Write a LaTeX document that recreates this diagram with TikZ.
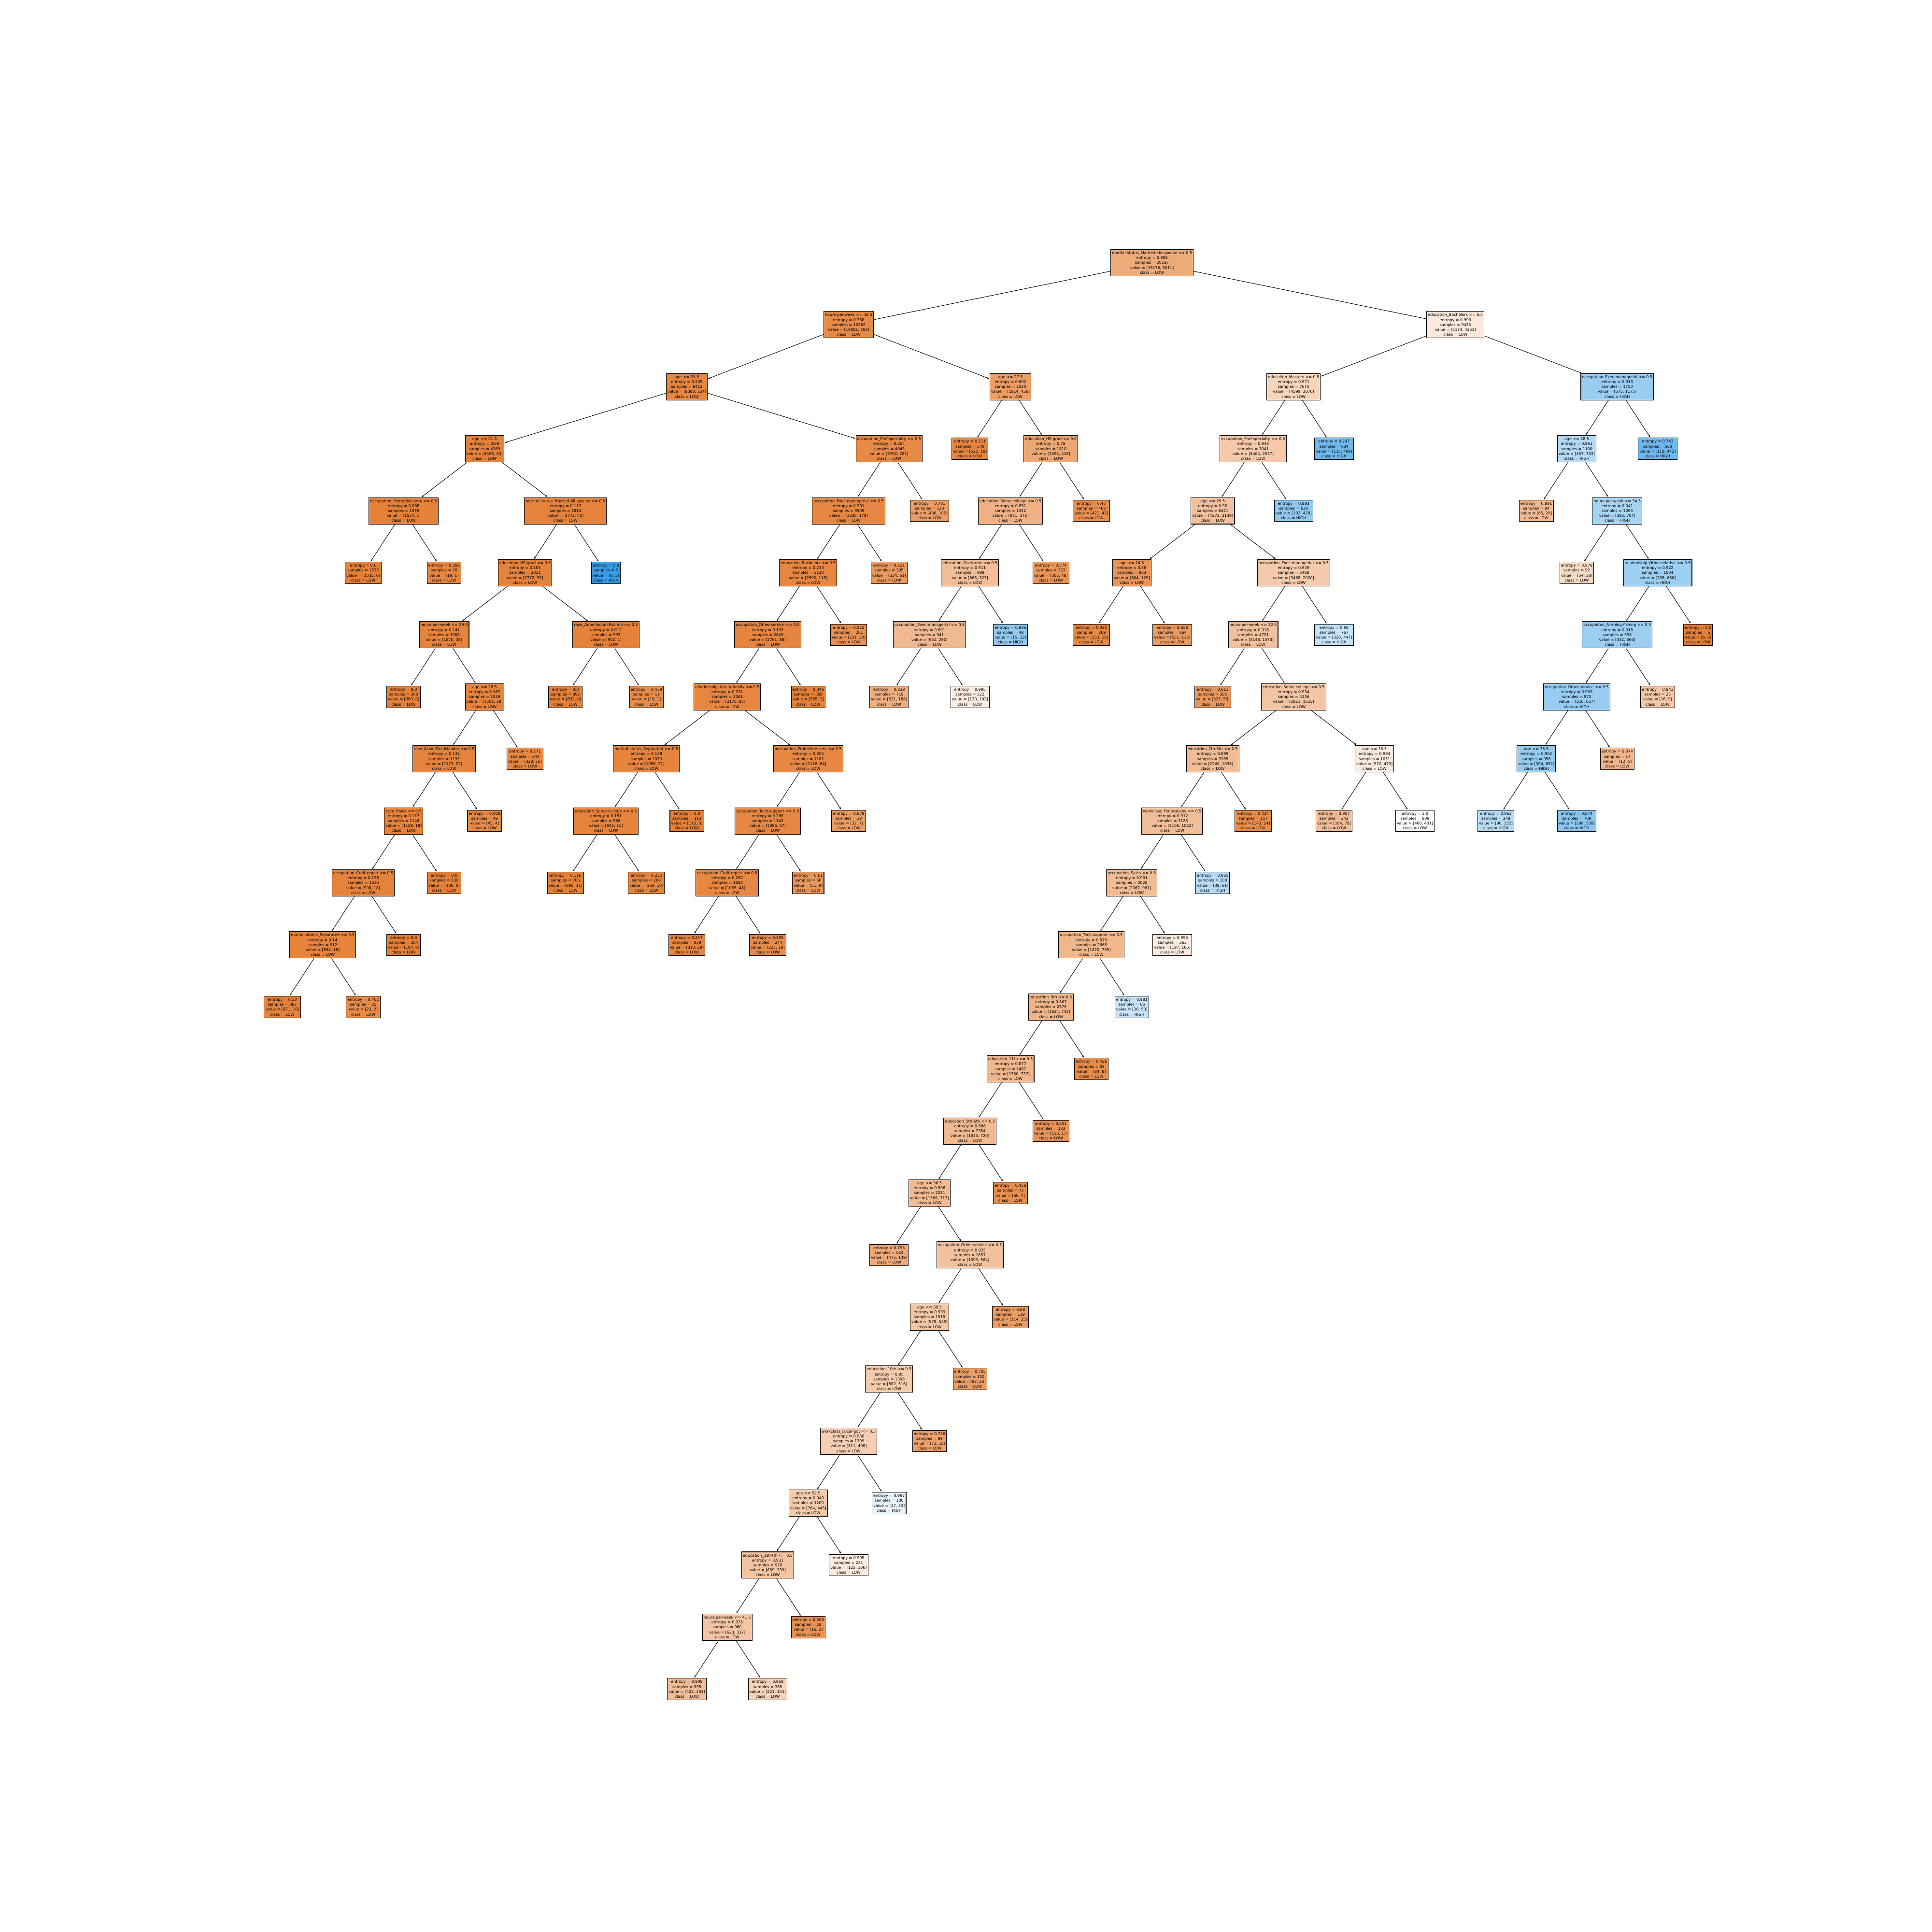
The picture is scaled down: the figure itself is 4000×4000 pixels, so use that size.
\documentclass[tikz,border=0pt]{standalone}
\usepackage{fontspec}
\setmainfont{DejaVu Sans}
\usetikzlibrary{arrows.meta}
\definecolor{loC}{RGB}{229,129,57}
\definecolor{hiC}{RGB}{57,157,229}
\tikzset{
  tbox/.style={draw=black, line width=1.1pt, rectangle, align=center,
    inner xsep=2.6pt, inner ysep=4pt, text=black,
    font=\fontsize{7.95}{10.2}\selectfont},
  edge/.style={line width=1pt, draw=black, -{Stealth[length=4.5pt,width=3.5pt]}, shorten >=1pt}
}
\newcommand\TNbase[6]{%
  \ifnum#5<#6\relax
    \pgfmathsetmacro\tnpct{100*(1-#5/#6)}\def\tnbase{hiC}\def\tncls{HIGH}%
  \else
    \pgfmathsetmacro\tnpct{100*(1-#6/#5)}\def\tnbase{loC}\def\tncls{LOW}%
  \fi
  \colorlet{tnfill}{\tnbase!\tnpct!white}%
  \node[tbox, fill=tnfill] (#1) at ({584.5+167.5*#2},{544+128.4*#3}) {#4};%
}
\newcommand\SN[8]{\TNbase{#1}{#2}{#3}{#4\\entropy = #5\\samples = #6\\value = [#7, #8]\\class = \tncls}{#7}{#8}}
\newcommand\LN[7]{\TNbase{#1}{#2}{#3}{entropy = #4\\samples = #5\\value = [#6, #7]\\class = \tncls}{#6}{#7}}
\begin{document}
\begin{tikzpicture}[x=1pt,y=-1pt]
\fill[white] (0,0) rectangle (4000,4000);
\path[use as bounding box] (0,0) rectangle (4000,4000);
% root and left
\SN{r}{10.75}{0}{marital-status\_Married-civ-spouse <= 0.5}{0.808}{20187}{15176}{5011}
\SN{a}{7}{1}{hours-per-week <= 42.5}{0.368}{10762}{10002}{760}
\SN{aa}{5}{2}{age <= 31.5}{0.235}{8412}{8088}{324}
\SN{ab}{9}{2}{age <= 27.5}{0.692}{2350}{1914}{436}
\SN{aaa}{2.5}{3}{age <= 21.5}{0.08}{4369}{4326}{43}
\SN{aab}{7.5}{3}{occupation\_Prof-specialty <= 0.5}{0.364}{4043}{3762}{281}
\SN{aaaa}{1.5}{4}{occupation\_Protective-serv <= 0.5}{0.008}{1555}{1554}{1}
\SN{aaab}{3.5}{4}{marital-status\_Married-AF-spouse <= 0.5}{0.112}{2814}{2772}{42}
\LN{l1}{1}{5}{0.0}{1535}{1535}{0}
\LN{l2}{2}{5}{0.286}{20}{19}{1}
\SN{c1}{3}{5}{education\_HS-grad <= 0.5}{0.105}{2811}{2772}{39}
\LN{l3}{4}{5}{0.0}{3}{0}{3}
\SN{c2}{2}{6}{hours-per-week <= 29.0}{0.141}{1908}{1870}{38}
\SN{c3}{4}{6}{race\_Amer-Indian-Eskimo <= 0.5}{0.012}{903}{902}{1}
\LN{l4}{1.5}{7}{0.0}{369}{369}{0}
\SN{c4}{2.5}{7}{age <= 28.5}{0.167}{1539}{1501}{38}
\LN{l5}{3.5}{7}{0.0}{892}{892}{0}
\LN{l6}{4.5}{7}{0.439}{11}{10}{1}
\SN{c5}{2}{8}{race\_Asian-Pac-Islander <= 0.5}{0.132}{1195}{1173}{22}
\LN{l7}{3}{8}{0.271}{344}{328}{16}
\SN{c6}{1.5}{9}{race\_Black <= 0.5}{0.117}{1146}{1128}{18}
\LN{l8}{2.5}{9}{0.408}{49}{45}{4}
\SN{c7}{1}{10}{occupation\_Craft-repair <= 0.5}{0.128}{1016}{998}{18}
\LN{l9}{2}{10}{0.0}{130}{130}{0}
\SN{c8}{0.5}{11}{marital-status\_Separated <= 0.5}{0.14}{912}{894}{18}
\LN{l10}{1.5}{11}{0.0}{104}{104}{0}
\LN{l11}{0}{12}{0.13}{887}{871}{16}
\LN{l12}{1}{12}{0.402}{25}{23}{2}
% aab subtree
\SN{d1}{7}{4}{occupation\_Exec-managerial <= 0.5}{0.291}{3505}{3326}{179}
\LN{m1}{8}{4}{0.701}{538}{436}{102}
\SN{d2}{6.5}{5}{education\_Bachelors <= 0.5}{0.233}{3110}{2992}{118}
\LN{m2}{7.5}{5}{0.621}{395}{334}{61}
\SN{d3}{6}{6}{occupation\_Other-service <= 0.5}{0.199}{2849}{2761}{88}
\LN{m3}{7}{6}{0.515}{261}{231}{30}
\SN{d4}{5.5}{7}{relationship\_Not-in-family <= 0.5}{0.231}{2261}{2176}{85}
\LN{m4}{6.5}{7}{0.046}{588}{585}{3}
\SN{d5}{4.5}{8}{marital-status\_Separated <= 0.5}{0.138}{1079}{1058}{21}
\SN{d6}{6.5}{8}{occupation\_Protective-serv <= 0.5}{0.304}{1182}{1118}{64}
\SN{d7}{4}{9}{education\_Some-college <= 0.5}{0.151}{966}{945}{21}
\LN{m5}{5}{9}{0.0}{113}{113}{0}
\SN{d8}{6}{9}{occupation\_Tech-support <= 0.5}{0.286}{1143}{1086}{57}
\LN{m6}{7}{9}{0.679}{39}{32}{7}
\LN{m7}{3.5}{10}{0.116}{706}{695}{11}
\LN{m8}{4.5}{10}{0.235}{260}{250}{10}
\SN{d9}{5.5}{10}{occupation\_Craft-repair <= 0.5}{0.262}{1083}{1035}{48}
\LN{m9}{6.5}{10}{0.61}{60}{51}{9}
\LN{m10}{5}{11}{0.217}{839}{810}{29}
\LN{m11}{6}{11}{0.395}{244}{225}{19}
% ab subtree
\LN{n1}{8.5}{3}{0.211}{540}{522}{18}
\SN{e1}{9.5}{3}{education\_HS-grad <= 0.5}{0.78}{1810}{1392}{418}
\SN{e2}{9}{4}{education\_Some-college <= 0.5}{0.851}{1342}{971}{371}
\LN{n2}{10}{4}{0.47}{468}{421}{47}
\SN{e3}{8.5}{5}{education\_Doctorate <= 0.5}{0.911}{989}{666}{323}
\LN{n3}{9.5}{5}{0.574}{353}{305}{48}
\SN{e4}{8}{6}{occupation\_Exec-managerial <= 0.5}{0.891}{941}{651}{290}
\LN{n4}{9}{6}{0.896}{48}{15}{33}
\LN{n5}{7.5}{7}{0.829}{719}{531}{188}
\LN{n6}{8.5}{7}{0.995}{222}{120}{102}
% right subtree
\SN{b}{14.5}{1}{education\_Bachelors <= 0.5}{0.993}{9425}{5174}{4251}
\SN{ba}{12.5}{2}{education\_Masters <= 0.5}{0.971}{7675}{4599}{3076}
\SN{bb}{16.5}{2}{occupation\_Exec-managerial <= 0.5}{0.913}{1750}{575}{1175}
\SN{f1}{12}{3}{occupation\_Prof-specialty <= 0.5}{0.948}{7041}{4464}{2577}
\LN{o1}{13}{3}{0.747}{634}{135}{499}
\SN{g1}{16}{3}{age <= 28.5}{0.961}{1190}{457}{733}
\LN{o2}{17}{3}{0.743}{560}{118}{442}
\SN{f2}{11.5}{4}{age <= 29.5}{0.92}{6421}{4272}{2149}
\LN{o3}{12.5}{4}{0.893}{620}{192}{428}
\LN{o4}{15.5}{4}{0.891}{94}{65}{29}
\SN{g2}{16.5}{4}{hours-per-week <= 34.5}{0.941}{1096}{392}{704}
\SN{f3}{10.5}{5}{age <= 24.5}{0.58}{933}{804}{129}
\SN{f4}{12.5}{5}{occupation\_Exec-managerial <= 0.5}{0.949}{5488}{3468}{2020}
\LN{o5}{16}{5}{0.978}{92}{54}{38}
\SN{g3}{17}{5}{relationship\_Other-relative <= 0.5}{0.922}{1004}{338}{666}
\LN{o6}{10}{6}{0.325}{269}{253}{16}
\LN{o7}{11}{6}{0.658}{664}{551}{113}
\SN{f5}{12}{6}{hours-per-week <= 32.5}{0.918}{4721}{3148}{1573}
\LN{o8}{13}{6}{0.98}{767}{320}{447}
\SN{g4}{16.5}{6}{occupation\_Farming-fishing <= 0.5}{0.918}{998}{332}{666}
\LN{o9}{17.5}{6}{0.0}{6}{6}{0}
\LN{o10}{11.5}{7}{0.611}{385}{327}{58}
\SN{f6}{12.5}{7}{education\_Some-college <= 0.5}{0.934}{4336}{2821}{1515}
\SN{g5}{16}{7}{occupation\_Other-service <= 0.5}{0.909}{973}{316}{657}
\LN{o11}{17}{7}{0.943}{25}{16}{9}
\SN{f7}{11.5}{8}{education\_7th-8th <= 0.5}{0.899}{3285}{2249}{1036}
\SN{f8}{13.5}{8}{age <= 35.5}{0.994}{1051}{572}{479}
\SN{g6}{15.5}{8}{age <= 35.5}{0.902}{956}{304}{652}
\LN{o12}{16.5}{8}{0.874}{17}{12}{5}
\SN{f9}{11}{9}{workclass\_Federal-gov <= 0.5}{0.912}{3128}{2106}{1022}
\LN{o13}{12}{9}{0.434}{157}{143}{14}
\LN{o14}{13}{9}{0.907}{242}{164}{78}
\LN{o15}{14}{9}{1.0}{809}{408}{401}
\LN{o16}{15}{9}{0.963}{248}{96}{152}
\LN{o17}{16}{9}{0.874}{708}{208}{500}
\SN{h1}{10.5}{10}{occupation\_Sales <= 0.5}{0.901}{3028}{2067}{961}
\LN{p1}{11.5}{10}{0.965}{100}{39}{61}
\SN{h2}{10}{11}{occupation\_Tech-support <= 0.5}{0.879}{2665}{1870}{795}
\LN{p2}{11}{11}{0.995}{363}{197}{166}
\SN{h3}{9.5}{12}{education\_9th <= 0.5}{0.867}{2579}{1834}{745}
\LN{p3}{10.5}{12}{0.981}{86}{36}{50}
\SN{h4}{9}{13}{education\_11th <= 0.5}{0.877}{2487}{1750}{737}
\LN{p4}{10}{13}{0.426}{92}{84}{8}
\SN{h5}{8.5}{14}{education\_5th-6th <= 0.5}{0.888}{2354}{1634}{720}
\LN{p5}{9.5}{14}{0.551}{133}{116}{17}
\SN{h6}{8}{15}{age <= 36.5}{0.896}{2281}{1568}{713}
\LN{p6}{9}{15}{0.456}{73}{66}{7}
\LN{p7}{7.5}{16}{0.793}{624}{475}{149}
\SN{h7}{8.5}{16}{occupation\_Other-service <= 0.5}{0.925}{1657}{1093}{564}
\SN{h8}{8}{17}{age <= 60.5}{0.939}{1518}{979}{539}
\LN{p8}{9}{17}{0.68}{139}{114}{25}
\SN{h9}{7.5}{18}{education\_10th <= 0.5}{0.95}{1398}{882}{516}
\LN{p9}{8.5}{18}{0.705}{120}{97}{23}
\SN{h10}{7}{19}{workclass\_Local-gov <= 0.5}{0.958}{1309}{811}{498}
\LN{p10}{8}{19}{0.726}{89}{71}{18}
\SN{h11}{6.5}{20}{age <= 52.5}{0.949}{1209}{764}{445}
\LN{p11}{7.5}{20}{0.997}{100}{47}{53}
\SN{h12}{6}{21}{education\_1st-4th <= 0.5}{0.931}{978}{639}{339}
\LN{p12}{7}{21}{0.995}{231}{125}{106}
\SN{h13}{5.5}{22}{hours-per-week <= 41.5}{0.935}{960}{623}{337}
\LN{p13}{6.5}{22}{0.503}{18}{16}{2}
\LN{p14}{5}{23}{0.909}{595}{402}{193}
\LN{p15}{6}{23}{0.968}{365}{221}{144}
% edges
\foreach \p/\c in {r/a, a/aa, a/ab, aa/aaa, aa/aab, aaa/aaaa, aaa/aaab, aaaa/l1, aaaa/l2,
  aaab/c1, aaab/l3, c1/c2, c1/c3, c2/l4, c2/c4, c3/l5, c3/l6, c4/c5, c4/l7, c5/c6, c5/l8,
  c6/c7, c6/l9, c7/c8, c7/l10, c8/l11, c8/l12,
  aab/d1, aab/m1, d1/d2, d1/m2, d2/d3, d2/m3, d3/d4, d3/m4, d4/d5, d4/d6, d5/d7, d5/m5,
  d6/d8, d6/m6, d7/m7, d7/m8, d8/d9, d8/m9, d9/m10, d9/m11,
  ab/n1, ab/e1, e1/e2, e1/n2, e2/e3, e2/n3, e3/e4, e3/n4, e4/n5, e4/n6,
  r/b, b/ba, b/bb, ba/f1, ba/o1, bb/g1, bb/o2, f1/f2, f1/o3, g1/o4, g1/g2, f2/f3, f2/f4,
  g2/o5, g2/g3, f3/o6, f3/o7, f4/f5, f4/o8, g3/g4, g3/o9, f5/o10, f5/f6, g4/g5, g4/o11,
  f6/f7, f6/f8, g5/g6, g5/o12, f7/f9, f7/o13, f8/o14, f8/o15, g6/o16, g6/o17,
  f9/h1, f9/p1, h1/h2, h1/p2, h2/h3, h2/p3, h3/h4, h3/p4, h4/h5, h4/p5, h5/h6, h5/p6,
  h6/p7, h6/h7, h7/h8, h7/p8, h8/h9, h8/p9, h9/h10, h9/p10, h10/h11, h10/p11,
  h11/h12, h11/p12, h12/h13, h12/p13, h13/p14, h13/p15}
  \draw[edge] (\p) -- (\c);
\end{tikzpicture}
\end{document}
